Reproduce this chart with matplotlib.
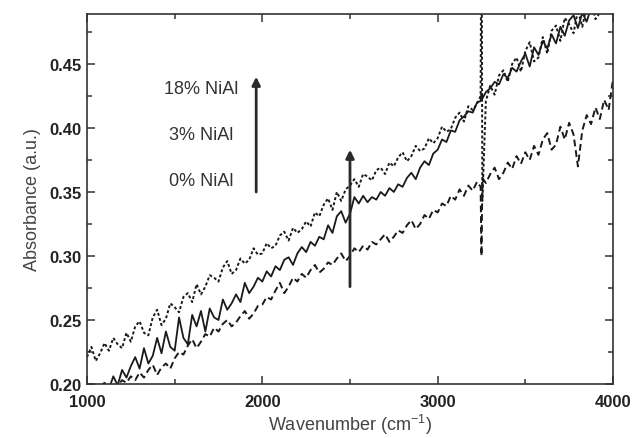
import numpy as np
import matplotlib.pyplot as plt

plt.rcParams["font.family"] = ["Liberation Sans", "DejaVu Sans"]
plt.rcParams["mathtext.fontset"] = "custom"
plt.rcParams["mathtext.rm"] = "Liberation Sans"
plt.rcParams["mathtext.it"] = "Liberation Sans:italic"

# Wavenumber sampling (cm-1), with extra points around the 3250 artefact
wavenumber = np.concatenate([np.arange(1000, 3250, 25), [3245, 3250, 3255],
                             np.arange(3275, 4025, 25)])

# 18% NiAl (dotted)
abs_18 = [
    0.221, 0.229, 0.218, 0.224, 0.232, 0.226, 0.236, 0.231, 0.228, 0.240,
    0.233, 0.245, 0.249, 0.240, 0.238, 0.252, 0.258, 0.246, 0.251, 0.263,
    0.260, 0.256, 0.268, 0.271, 0.264, 0.278, 0.270, 0.276, 0.285, 0.283,
    0.280, 0.291, 0.296, 0.286, 0.289, 0.298, 0.294, 0.297, 0.306, 0.301,
    0.302, 0.310, 0.306, 0.308, 0.316, 0.319, 0.312, 0.322, 0.318, 0.321,
    0.327, 0.323, 0.334, 0.331, 0.340, 0.345, 0.336, 0.350, 0.343, 0.352,
    0.355, 0.360, 0.354, 0.364, 0.362, 0.359, 0.367, 0.369, 0.364, 0.373,
    0.370, 0.377, 0.381, 0.374, 0.378, 0.386, 0.382, 0.384, 0.392, 0.388,
    0.392, 0.401, 0.397, 0.399, 0.408, 0.412, 0.405, 0.417, 0.414, 0.419,
    0.425, 0.600, 0.343, 0.421, 0.433, 0.426, 0.441, 0.445, 0.436, 0.450,
    0.455, 0.444, 0.460, 0.467, 0.452, 0.455, 0.471, 0.458, 0.476, 0.480,
    0.468, 0.486, 0.481, 0.474, 0.492, 0.479, 0.495, 0.500, 0.485, 0.490,
    0.505, 0.496, 0.508,
]

# 3% NiAl (solid)
abs_3 = [
    0.186, 0.192, 0.189, 0.198, 0.201, 0.196, 0.206, 0.199, 0.211, 0.205,
    0.214, 0.221, 0.212, 0.228, 0.216, 0.222, 0.236, 0.224, 0.241, 0.229,
    0.226, 0.252, 0.236, 0.231, 0.254, 0.245, 0.257, 0.241, 0.259, 0.252,
    0.250, 0.266, 0.258, 0.263, 0.270, 0.264, 0.279, 0.271, 0.276, 0.283,
    0.280, 0.288, 0.284, 0.292, 0.289, 0.297, 0.299, 0.293, 0.302, 0.307,
    0.303, 0.311, 0.308, 0.315, 0.313, 0.324, 0.318, 0.331, 0.335, 0.326,
    0.333, 0.346, 0.341, 0.347, 0.342, 0.346, 0.344, 0.350, 0.347, 0.353,
    0.350, 0.356, 0.354, 0.361, 0.365, 0.360, 0.369, 0.374, 0.371, 0.380,
    0.383, 0.391, 0.389, 0.398, 0.397, 0.406, 0.409, 0.413, 0.412, 0.420,
    0.421, 0.427, 0.423, 0.428, 0.431, 0.436, 0.434, 0.442, 0.439, 0.447,
    0.444, 0.452, 0.458, 0.448, 0.463, 0.457, 0.468, 0.462, 0.473, 0.466,
    0.479, 0.472, 0.484, 0.488, 0.478, 0.490, 0.483, 0.494, 0.499, 0.490,
    0.494, 0.503, 0.500,
]

# 0% NiAl (dashed)
abs_0 = [
    0.182, 0.186, 0.184, 0.190, 0.188, 0.195, 0.193, 0.199, 0.203, 0.201,
    0.206, 0.203, 0.209, 0.205, 0.211, 0.215, 0.207, 0.213, 0.216, 0.212,
    0.220, 0.225, 0.223, 0.230, 0.235, 0.228, 0.233, 0.239, 0.237, 0.244,
    0.241, 0.247, 0.250, 0.245, 0.248, 0.253, 0.257, 0.251, 0.255, 0.261,
    0.262, 0.268, 0.266, 0.273, 0.279, 0.271, 0.276, 0.283, 0.280, 0.286,
    0.283, 0.289, 0.293, 0.287, 0.290, 0.295, 0.293, 0.298, 0.302, 0.296,
    0.300, 0.306, 0.303, 0.308, 0.305, 0.311, 0.309, 0.313, 0.317, 0.311,
    0.315, 0.320, 0.318, 0.324, 0.328, 0.321, 0.325, 0.332, 0.329, 0.336,
    0.334, 0.341, 0.339, 0.347, 0.344, 0.352, 0.347, 0.355, 0.351, 0.358,
    0.354, 0.300, 0.361, 0.357, 0.364, 0.369, 0.360, 0.365, 0.373, 0.368,
    0.378, 0.372, 0.381, 0.375, 0.386, 0.379, 0.391, 0.396, 0.383, 0.387,
    0.401, 0.391, 0.404, 0.395, 0.370, 0.398, 0.410, 0.403, 0.416, 0.407,
    0.422, 0.414, 0.438,
]

labels = ["18% NiAl", "3% NiAl", "0% NiAl"]
label_y = [0.4305, 0.395, 0.3586]

fig = plt.figure(figsize=(6.36, 4.39), dpi=100)
ax = fig.add_axes([0.1368, 0.123, 0.827, 0.8428])

col = "#1a1a1a"
ax.plot(wavenumber, abs_18, color=col, lw=1.4, linestyle=(0, (1.5, 1.2)))
ax.plot(wavenumber, abs_3, color=col, lw=1.3, linestyle="-")
ax.plot(wavenumber, abs_0, color=col, lw=1.4, linestyle=(0, (3.5, 2)))

# Arrows
arrow = dict(arrowstyle="-|>", lw=2, color="#2a2a2a", mutation_scale=12,
             shrinkA=0, shrinkB=0)
ax.annotate("", xy=(1965, 0.440), xytext=(1965, 0.350), arrowprops=arrow)
ax.annotate("", xy=(2500, 0.383), xytext=(2500, 0.276), arrowprops=arrow)

for txt, yy in zip(labels, label_y):
    ax.text(1650, yy, txt, ha="center", va="center", fontsize=13, color="#333333")

ax.set_xlim(1000, 4000)
ax.set_ylim(0.20, 0.489)
ax.set_xticks([1000, 2000, 3000, 4000])
ax.set_xticks([1500, 2500, 3500], minor=True)
ax.set_yticks([0.20, 0.25, 0.30, 0.35, 0.40, 0.45])
ax.set_yticks([0.225, 0.275, 0.325, 0.375, 0.425, 0.475], minor=True)
ax.set_yticklabels(["%.2f" % v for v in ax.get_yticks()])

ax.tick_params(which="both", direction="in", top=True, right=True,
               color="#333333", width=1.1)
ax.tick_params(which="major", length=6, labelsize=12, labelcolor="#222222")
ax.tick_params(axis="x", which="major", pad=7)
ax.tick_params(axis="y", which="major", pad=4)
ax.tick_params(which="minor", length=3.5)
for lab in ax.get_xticklabels() + ax.get_yticklabels():
    lab.set_fontweight("bold")
for sp in ax.spines.values():
    sp.set_color("#333333")
    sp.set_linewidth(1.2)

ax.set_xlabel("Wavenumber (cm$^{-1}$)", fontsize=13, color="#444444", labelpad=2)
ax.set_ylabel("Absorbance (a.u.)", fontsize=13, color="#444444", labelpad=6)

plt.savefig("out.png", dpi=100)
